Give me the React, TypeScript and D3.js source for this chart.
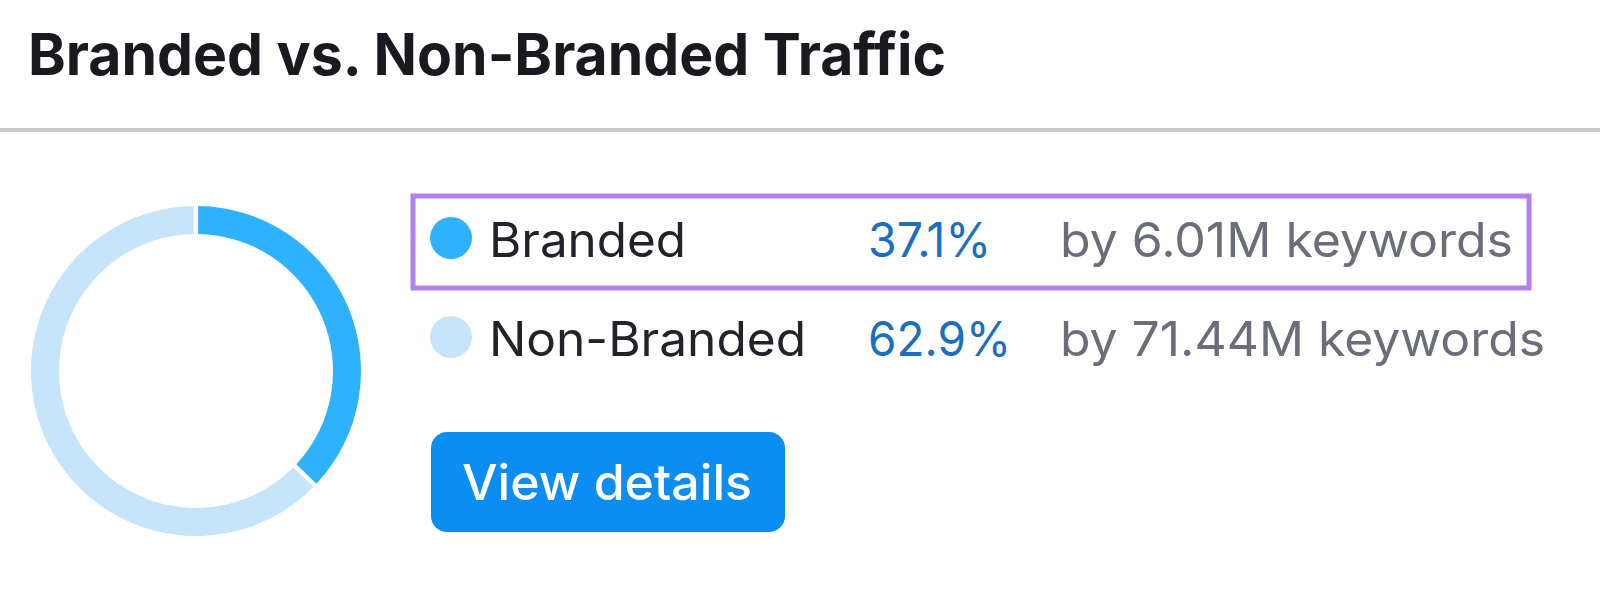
import React from 'react';
import * as d3 from 'd3';

// chart values
const categories = ['Branded', 'Non-Branded'];
const shares = [37.1, 62.9];
const keywordCounts = ['6.01M', '71.44M'];
const colors = ['#2fb2fd', '#c6e4fa'];

const W = 1600;
const H = 593;
const FONT = 'Inter, "Noto Sans", sans-serif';

const App: React.FC = () => {
  const cx = 196;
  const cy = 371;

  const pie = d3
    .pie<number>()
    .sort(null)
    .value(d => d)
    .padAngle(0.02);

  const arc = d3
    .arc<d3.PieArcDatum<number>>()
    .innerRadius(137)
    .outerRadius(165);

  const arcs = pie(shares);

  // legend rows
  const rowY = d3.scalePoint<string>().domain(categories).range([238, 337]);
  const labelWidths = [197, 317];
  const pctWidths = [123, 143];
  const kwWidths = [453, 485];

  return (
    <svg
      width={W}
      height={H}
      viewBox={`0 0 ${W} ${H}`}
      style={{ position: 'absolute', left: 0, top: 0, background: '#fff' }}
      fontFamily={FONT}
    >
      <rect width={W} height={H} fill="#fff" />

      <text
        x={28}
        y={75}
        fontSize={58}
        fontWeight={700}
        fill="#181a20"
        textLength={918}
        lengthAdjust="spacingAndGlyphs"
      >
        Branded vs. Non-Branded Traffic
      </text>

      <rect x={0} y={128} width={W} height={4} fill="#c8c9ce" />

      <g transform={`translate(${cx},${cy})`}>
        {arcs.map((a, i) => (
          <path key={i} d={arc(a) || ''} fill={colors[i]} />
        ))}
      </g>

      {/* highlight box */}
      <rect
        x={413}
        y={196}
        width={1116}
        height={92}
        fill="none"
        stroke="#b47ff0"
        strokeWidth={5}
      />

      {categories.map((c, i) => {
        const y = rowY(c) as number;
        return (
          <g key={c}>
            <circle cx={451} cy={y} r={21} fill={colors[i]} />
            <text
              x={489}
              y={y + 19}
              fontSize={48}
              fill="#222329"
              textLength={labelWidths[i]}
              lengthAdjust="spacingAndGlyphs"
            >
              {c}
            </text>
            <text
              x={868}
              y={y + 19}
              fontSize={48}
              fill="#1b6fbe"
              textLength={pctWidths[i]}
              lengthAdjust="spacingAndGlyphs"
            >
              {d3.format('.1f')(shares[i])}%
            </text>
            <text
              x={1060}
              y={y + 19}
              fontSize={48}
              fill="#6b6e7a"
              textLength={kwWidths[i]}
              lengthAdjust="spacingAndGlyphs"
            >
              by {keywordCounts[i]} keywords
            </text>
          </g>
        );
      })}

      <rect x={431} y={432} width={354} height={100} rx={16} fill="#0b8df2" />
      <text
        x={462}
        y={500}
        fontSize={50}
        fontWeight={500}
        fill="#fff"
        textLength={290}
        lengthAdjust="spacingAndGlyphs"
      >
        View details
      </text>
    </svg>
  );
};

export default App;
